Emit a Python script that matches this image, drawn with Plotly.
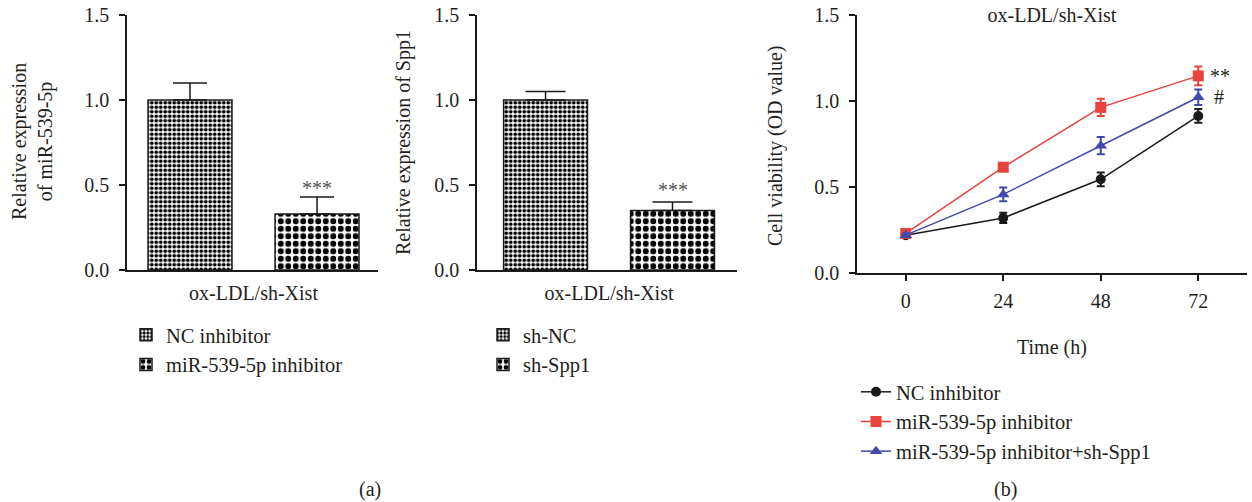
import plotly.graph_objects as go

# ---------------- data ----------------
group_label = ["ox-LDL/sh-Xist"]

mir_names = ["NC inhibitor", "miR-539-5p inhibitor"]
mir_values = [1.00, 0.33]
mir_errors = [0.10, 0.10]

spp_names = ["sh-NC", "sh-Spp1"]
spp_values = [1.00, 0.35]
spp_errors = [0.05, 0.05]

time_h = [0, 24, 48, 72]
via_names = ["NC inhibitor", "miR-539-5p inhibitor", "miR-539-5p inhibitor+sh-Spp1"]
via_nc = [0.22, 0.32, 0.545, 0.913]
via_nc_err = [0.01, 0.03, 0.04, 0.04]
via_mir = [0.23, 0.615, 0.963, 1.146]
via_mir_err = [0.01, 0.01, 0.05, 0.055]
via_mirsh = [0.22, 0.457, 0.74, 1.022]
via_mirsh_err = [0.01, 0.04, 0.05, 0.045]

yticks = [0.0, 0.5, 1.0, 1.5]

# ---------------- styles ----------------
FONT = "Liberation Serif"
TXT = "#231f20"
BLACK = "#1a1a1a"
RED = "#e8423d"
BLUE = "#4149aa"
W, H = 1252, 502
FS = 20
LFS = 20.5


def px_x(p):
    return p / W


def px_y(p):
    return (H - p) / H


fig = go.Figure()

patterns = [
    dict(shape=".", fgcolor="black", bgcolor="white", size=4.5, solidity=0.55, fillmode="replace"),
    dict(shape=".", fgcolor="black", bgcolor="white", size=7.5, solidity=0.5, fillmode="replace"),
]

for i in range(2):
    fig.add_trace(go.Bar(
        x=group_label, y=[mir_values[i]], name=mir_names[i],
        marker=dict(color="white", line=dict(color=BLACK, width=1.5), pattern=patterns[i]),
        error_y=dict(type="data", array=[mir_errors[i]], arrayminus=[0], symmetric=False,
                     color=BLACK, thickness=1.5, width=17),
        xaxis="x", yaxis="y", legend="legend", offsetgroup=str(i),
    ))
for i in range(2):
    fig.add_trace(go.Bar(
        x=group_label, y=[spp_values[i]], name=spp_names[i],
        marker=dict(color="white", line=dict(color=BLACK, width=1.5), pattern=patterns[i]),
        error_y=dict(type="data", array=[spp_errors[i]], arrayminus=[0], symmetric=False,
                     color=BLACK, thickness=1.5, width=20),
        xaxis="x2", yaxis="y2", legend="legend2", offsetgroup=str(i),
    ))

series = [
    (via_nc, via_nc_err, BLACK, "circle", 10),
    (via_mir, via_mir_err, RED, "square", 11),
    (via_mirsh, via_mirsh_err, BLUE, "triangle-up", 11),
]
for name, (vals, errs, col, sym, sz) in zip(via_names, series):
    fig.add_trace(go.Scatter(
        x=time_h, y=vals, name=name, mode="lines+markers",
        line=dict(color=col, width=1.5),
        marker=dict(color=col, symbol=sym, size=sz),
        error_y=dict(type="data", array=errs, color=col, thickness=2, width=4),
        xaxis="x3", yaxis="y3", legend="legend3",
    ))

tickfont = dict(family=FONT, size=FS, color=TXT)
axis_common = dict(showline=True, linecolor=BLACK, linewidth=1.5, showgrid=False,
                   zeroline=False, tickfont=tickfont, fixedrange=True, automargin=False,
                   ticklabeloverflow="allow")
yaxis_common = dict(axis_common, range=[0, 1.5], tickvals=yticks, tickformat=".1f",
                    ticks="outside", ticklen=6, tickwidth=1.5, tickcolor=BLACK,
                    ticklabelstandoff=6)

legend_common = dict(font=dict(family=FONT, size=LFS, color=TXT), bgcolor="rgba(0,0,0,0)",
                     xanchor="left", yanchor="top", tracegroupgap=0, borderwidth=0)

fig.update_layout(
    template="none",
    width=W, height=H,
    margin=dict(l=0, r=0, t=0, b=0, pad=0, autoexpand=False),
    paper_bgcolor="white", plot_bgcolor="white",
    font=dict(family=FONT, color=TXT),
    barmode="group", bargap=0.0, bargroupgap=0.339,
    showlegend=True,
    xaxis=dict(axis_common, domain=[px_x(127), px_x(378)], range=[-0.498, 0.490],
               ticks="", ticklabelstandoff=4, anchor="y"),
    yaxis=dict(yaxis_common, domain=[px_y(270), px_y(15)], anchor="x"),
    xaxis2=dict(axis_common, domain=[px_x(477), px_x(737)], range=[-0.520, 0.504],
                ticks="", ticklabelstandoff=4, anchor="y2"),
    yaxis2=dict(yaxis_common, domain=[px_y(270), px_y(15)], anchor="x2"),
    xaxis3=dict(axis_common, domain=[px_x(857), px_x(1247)], range=[-12, 84],
                tickvals=time_h, ticks="outside", ticklen=6, tickwidth=1.5,
                tickcolor=BLACK, ticklabelstandoff=3, anchor="y3"),
    yaxis3=dict(yaxis_common, domain=[px_y(273), px_y(15)], anchor="x3"),
    legend=dict(legend_common, x=px_x(126), y=px_y(315)),
    legend2=dict(legend_common, x=px_x(483), y=px_y(315)),
    legend3=dict(legend_common, x=px_x(856), y=px_y(372)),
    title=dict(text="ox-LDL/sh-Xist", x=px_x(1052), y=px_y(15), xanchor="center",
               yanchor="middle", xref="paper", yref="paper",
               font=dict(family=FONT, size=FS, color=TXT)),
)

ann_font = dict(family=FONT, size=FS, color=TXT)
annotations = [
    dict(text="Relative expression<br>of miR-539-5p", x=px_x(33), y=px_y(142), textangle=-90),
    dict(text="Relative expression of Spp1", x=px_x(404), y=px_y(142), textangle=-90),
    dict(text="Cell viability (OD value)", x=px_x(776), y=px_y(145), textangle=-90),
    dict(text="Time (h)", x=px_x(1052), y=px_y(347)),
    dict(text="(a)", x=px_x(370), y=px_y(489)),
    dict(text="(b)", x=px_x(1006), y=px_y(489)),
]
for a in annotations:
    fig.add_annotation(xref="paper", yref="paper", showarrow=False, font=ann_font,
                       xanchor="center", yanchor="middle", **a)

star_font = dict(family=FONT, size=FS, color="#555555")
fig.add_annotation(xref="x", yref="y", x=0.25, y=mir_values[1] + mir_errors[1] + 0.05,
                   text="***", showarrow=False, font=star_font, yanchor="middle")
fig.add_annotation(xref="x2", yref="y2", x=0.25, y=spp_values[1] + spp_errors[1] + 0.07,
                   text="***", showarrow=False, font=star_font, yanchor="middle")
fig.add_annotation(xref="x3", yref="y3", x=74.4, y=via_mir[-1],
                   text="**", showarrow=False, font=dict(family=FONT, size=FS, color=TXT),
                   xanchor="left", yanchor="middle")
fig.add_annotation(xref="x3", yref="y3", x=75.3, y=via_mirsh[-1],
                   text="#", showarrow=False, font=dict(family=FONT, size=FS, color=TXT),
                   xanchor="left", yanchor="middle")

fig.write_html("out.html", config={"displayModeBar": False},
               post_script="document.body.style.margin='0px';")
